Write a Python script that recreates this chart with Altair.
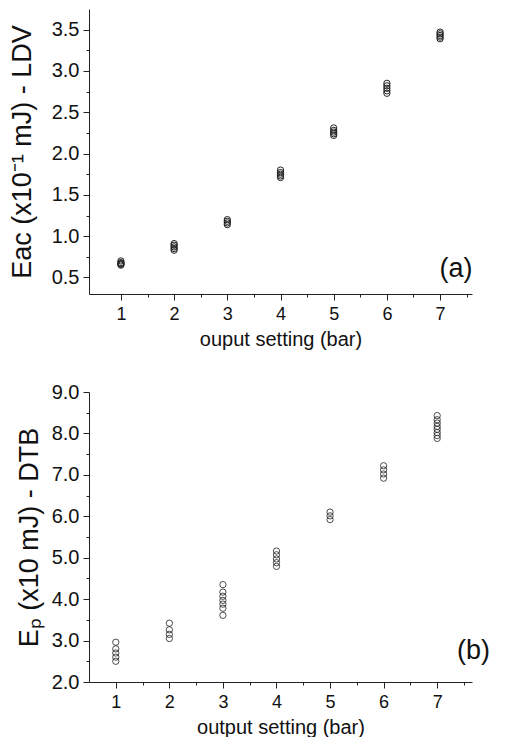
import altair as alt
import pandas as pd

# ---- data ----
top_x = [1]*5 + [2]*5 + [3]*4 + [4]*5 + [5]*5 + [6]*5 + [7]*5
top_y = [0.70, 0.68, 0.67, 0.66, 0.65,
         0.91, 0.89, 0.87, 0.85, 0.83,
         1.20, 1.18, 1.16, 1.14,
         1.80, 1.77, 1.75, 1.73, 1.71,
         2.31, 2.28, 2.26, 2.24, 2.22,
         2.85, 2.82, 2.79, 2.76, 2.73,
         3.47, 3.45, 3.43, 3.41, 3.39]

bot_x = [1]*5 + [2]*4 + [3]*7 + [4]*5 + [5]*3 + [6]*4 + [7]*8
bot_y = [2.96, 2.80, 2.70, 2.60, 2.50,
         3.42, 3.26, 3.15, 3.05,
         4.35, 4.17, 4.07, 3.97, 3.88, 3.78, 3.61,
         5.16, 5.07, 4.97, 4.88, 4.79,
         6.10, 6.01, 5.92,
         7.22, 7.12, 7.02, 6.92,
         8.43, 8.33, 8.25, 8.17, 8.10, 8.02, 7.95, 7.88]

x_major = [1, 2, 3, 4, 5, 6, 7]
x_minor = [1.5, 2.5, 3.5, 4.5, 5.5, 6.5, 7.5]
top_y_major = [0.5, 1.0, 1.5, 2.0, 2.5, 3.0, 3.5]
top_y_minor = [0.75, 1.25, 1.75, 2.25, 2.75, 3.25]
bot_y_major = [2.0, 3.0, 4.0, 5.0, 6.0, 7.0, 8.0, 9.0]
bot_y_minor = [2.5, 3.5, 4.5, 5.5, 6.5, 7.5, 8.5]

top_title_y = "Eac (x10⁻¹ mJ) - LDV"
top_title_x = "ouput setting (bar)"
bot_title_y = "Eₚ (x10 mJ) - DTB"
bot_title_x = "output setting (bar)"
panel_labels = ["(a)", "(b)"]

FONT = "Liberation Sans"


def panel(xs, ys, xdom, ydom, ymaj, ymin, ytitle, xtitle, lab, lab_pos, w, h, ytp, sw):
    df = pd.DataFrame({"x": xs, "y": ys})
    xs_ = alt.Scale(domain=xdom, nice=False, zero=False)
    ys_ = alt.Scale(domain=ydom, nice=False, zero=False)
    common_axis = dict(domainColor="#222", tickColor="#222", domainWidth=1,
                       tickWidth=1, grid=False, labelFont=FONT, titleFont=FONT,
                       labelColor="#111", titleColor="#111", titleFontWeight="normal")
    pts = alt.Chart(df).mark_point(shape="circle", filled=False, color="#222",
                                   size=40, strokeWidth=sw, opacity=1).encode(
        x=alt.X("x:Q", scale=xs_, axis=alt.Axis(values=x_major, tickSize=6,
                labelFontSize=18, labelPadding=5, title=xtitle, titleFontSize=20,
                titlePadding=6, format="d", orient="bottom", **common_axis)),
        y=alt.Y("y:Q", scale=ys_, axis=alt.Axis(values=ymaj, tickSize=6,
                labelFontSize=20, labelPadding=4, title=ytitle, titleFontSize=27,
                titlePadding=ytp, format=".1f", orient="left", **common_axis)),
    )
    minor = alt.Chart(df).mark_point(opacity=0).encode(
        x=alt.X("x:Q", scale=xs_, axis=alt.Axis(values=x_minor, tickSize=3,
                labels=False, domain=False, title=None, orient="bottom", **common_axis)),
        y=alt.Y("y:Q", scale=ys_, axis=alt.Axis(values=ymin, tickSize=3,
                labels=False, domain=False, title=None, orient="left", **common_axis)),
    )
    tdf = pd.DataFrame({"x": [lab_pos[0]], "y": [lab_pos[1]], "t": [lab]})
    txt = alt.Chart(tdf).mark_text(font=FONT, fontSize=27, color="#111").encode(
        x=alt.X("x:Q", scale=xs_, axis=None),
        y=alt.Y("y:Q", scale=ys_, axis=None),
        text="t:N",
    )
    return alt.layer(pts, minor, txt).resolve_axis(
        x="independent", y="independent").properties(width=w, height=h)


top = panel(top_x, top_y, [0.4, 7.6], [0.3, 3.75], top_y_major, top_y_minor,
            top_title_y, top_title_x, panel_labels[0], (7.3, 0.6), 383, 285, 15, 1.0)
bot = panel(bot_x, bot_y, [0.5, 7.65], [2.0, 9.0], bot_y_major, bot_y_minor,
            bot_title_y, bot_title_x, panel_labels[1], (7.68, 2.75), 383, 290, 8, 0.8)

chart = alt.vconcat(top, bot, spacing=33).properties(
    padding={"top": 1, "left": 0, "right": 0, "bottom": 0},
    background="white",
).configure_view(stroke="transparent", strokeWidth=0)

chart.save("out.html", embed_options={"renderer": "svg", "actions": False})
